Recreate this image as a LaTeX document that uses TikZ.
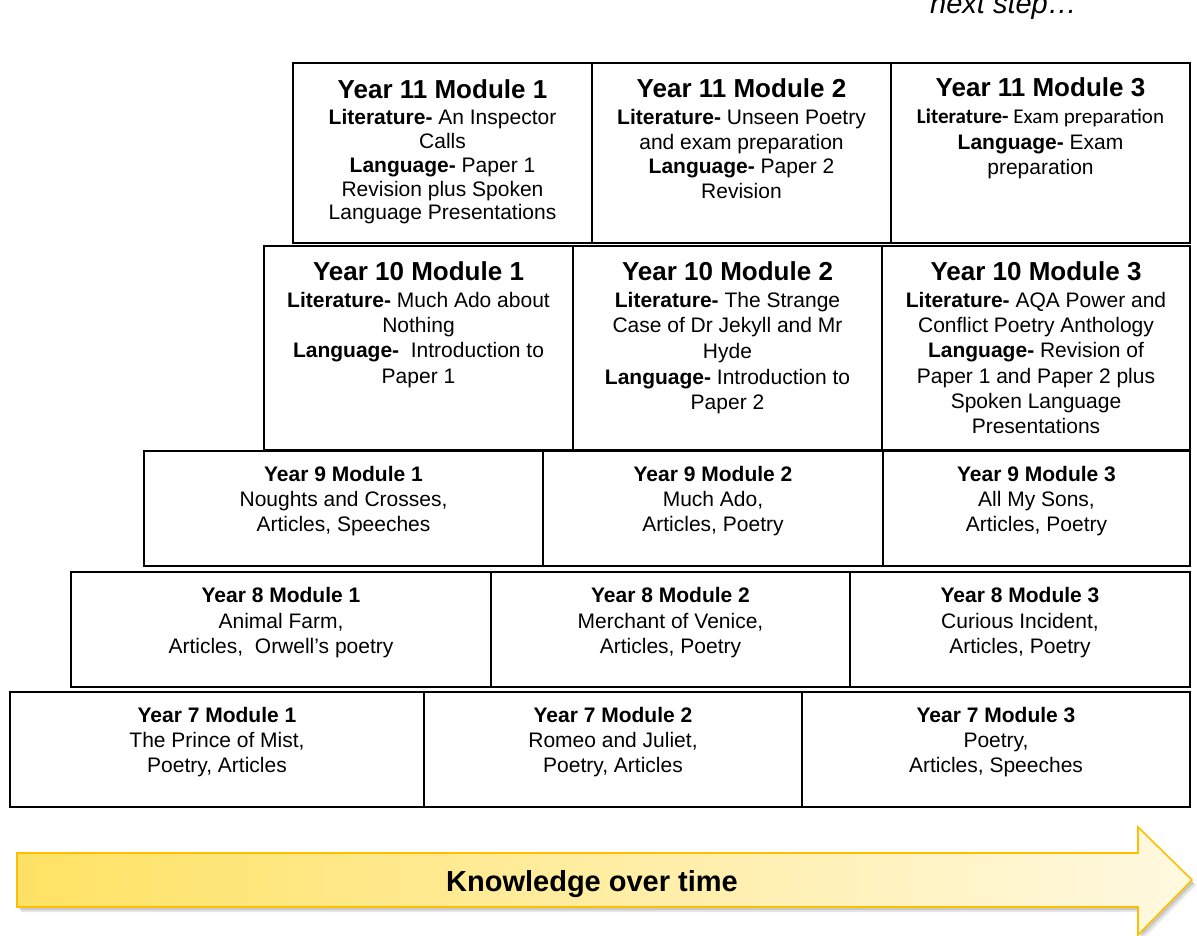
\documentclass[tikz,border=0pt]{standalone}
\usepackage{fontspec}
\setmainfont{Liberation Sans}
\newfontfamily\carlito{Carlito}
\definecolor{arrowedge}{RGB}{255,190,0}
\definecolor{arrowleft}{RGB}{255,226,100}
\definecolor{arrowright}{RGB}{255,249,225}
\tikzset{
  modbox/.style={draw=black, line width=2.4pt, anchor=north west, inner sep=0pt, outer sep=0pt},
  ttl/.style={anchor=base, inner sep=0pt, font=\bfseries\fontsize{26}{30}\selectfont},
  stl/.style={anchor=base, inner sep=0pt, font=\bfseries\fontsize{21}{25}\selectfont},
  bdy/.style={anchor=base, inner sep=0pt, font=\fontsize{21}{#1}\selectfont},
  bdy/.default=25,
  arrowshape/.style={line width=1.6pt, draw=arrowedge, left color=arrowleft, right color=arrowright},
}
\newcommand{\cellt}[1]{\begin{tabular}[t]{@{}c@{}}#1\end{tabular}}
\begin{document}
\begin{tikzpicture}[x=1pt,y=-1pt]
\useasboundingbox (0,0) rectangle (1197,936);
\clip (0,0) rectangle (1197,936);
\fill[white] (0,0) rectangle (1197,936);

% ---- Year 11 row
\node[modbox, minimum width=299pt, minimum height=180pt] (y11m1) at (293,63) {};
\node[modbox, minimum width=299pt, minimum height=180pt] (y11m2) at (592,63) {};
\node[modbox, minimum width=299pt, minimum height=180pt] (y11m3) at (891,63) {};
% ---- Year 10 row
\node[modbox, minimum width=309pt, minimum height=204pt] (y10m1) at (264,246) {};
\node[modbox, minimum width=309pt, minimum height=204pt] (y10m2) at (573,246) {};
\node[modbox, minimum width=308pt, minimum height=204pt] (y10m3) at (882,246) {};
% ---- Year 9 row
\node[modbox, minimum width=399pt, minimum height=115pt] (y9m1) at (144,451) {};
\node[modbox, minimum width=340pt, minimum height=115pt] (y9m2) at (543,451) {};
\node[modbox, minimum width=307pt, minimum height=115pt] (y9m3) at (883,451) {};
% ---- Year 8 row
\node[modbox, minimum width=420pt, minimum height=115pt] (y8m1) at (71,572) {};
\node[modbox, minimum width=359pt, minimum height=115pt] (y8m2) at (491,572) {};
\node[modbox, minimum width=340pt, minimum height=115pt] (y8m3) at (850,572) {};
% ---- Year 7 row
\node[modbox, minimum width=414pt, minimum height=115pt] (y7m1) at (10,692) {};
\node[modbox, minimum width=378pt, minimum height=115pt] (y7m2) at (424,692) {};
\node[modbox, minimum width=388pt, minimum height=115pt] (y7m3) at (802,692) {};

% ---- Year 11 texts
\node[ttl] (y11m1t) at (442.5,99) {Year 11 Module 1};
\node[bdy=23.7] (y11m1b) at (442.5,125) {\cellt{\textbf{Literature-} An Inspector\\Calls\\\textbf{Language-} Paper 1\\Revision plus Spoken\\Language Presentations}};
\node[ttl] (y11m2t) at (741.5,98) {Year 11 Module 2};
\node[bdy=24.5] (y11m2b) at (741.5,125) {\cellt{\textbf{Literature-} Unseen Poetry\\and exam preparation\\\textbf{Language-} Paper 2\\Revision}};
\node[ttl] (y11m3t) at (1040.5,97) {Year 11 Module 3};
\node[bdy=25.5] (y11m3b) at (1040.5,124) {\cellt{{\carlito\textbf{Literature-} Exam preparation}\\\textbf{Language-} Exam\\preparation}};

% ---- Year 10 texts
\node[ttl] (y10m1t) at (418.5,280) {Year 10 Module 1};
\node[bdy=25.5] (y10m1b) at (418.5,307) {\cellt{\textbf{Literature-} Much Ado about\\Nothing\\\textbf{Language-}\ \ Introduction to\\Paper 1}};
\node[ttl] (y10m2t) at (727.5,280) {Year 10 Module 2};
\node[bdy=25.7] (y10m2b) at (727.5,307) {\cellt{\textbf{Literature-} The Strange\\Case of Dr Jekyll and Mr\\Hyde\\\textbf{Language-} Introduction to\\Paper 2}};
\node[ttl] (y10m3t) at (1036,280) {Year 10 Module 3};
\node[bdy=25.4] (y10m3b) at (1036,307) {\cellt{\textbf{Literature-} AQA Power and\\Conflict Poetry Anthology\\\textbf{Language-} Revision of\\Paper 1 and Paper 2 plus\\Spoken Language\\Presentations}};

% ---- Year 9 texts
\node[stl] (y9m1t) at (343.5,481) {Year 9 Module 1};
\node[bdy] (y9m1b) at (343.5,506) {\cellt{Noughts and Crosses,\\Articles, Speeches}};
\node[stl] (y9m2t) at (713,481) {Year 9 Module 2};
\node[bdy] (y9m2b) at (713,506) {\cellt{Much Ado,\\Articles, Poetry}};
\node[stl] (y9m3t) at (1036.5,481) {Year 9 Module 3};
\node[bdy] (y9m3b) at (1036.5,506) {\cellt{All My Sons,\\Articles, Poetry}};

% ---- Year 8 texts
\node[stl] (y8m1t) at (281,602) {Year 8 Module 1};
\node[bdy] (y8m1b) at (281,628) {\cellt{Animal Farm,\\Articles,\ \ Orwell’s poetry}};
\node[stl] (y8m2t) at (670.5,602) {Year 8 Module 2};
\node[bdy] (y8m2b) at (670.5,628) {\cellt{Merchant of Venice,\\Articles, Poetry}};
\node[stl] (y8m3t) at (1020,602) {Year 8 Module 3};
\node[bdy] (y8m3b) at (1020,628) {\cellt{Curious Incident,\\Articles, Poetry}};

% ---- Year 7 texts
\node[stl] (y7m1t) at (217,722) {Year 7 Module 1};
\node[bdy] (y7m1b) at (217,747) {\cellt{The Prince of Mist,\\Poetry, Articles}};
\node[stl] (y7m2t) at (613,722) {Year 7 Module 2};
\node[bdy] (y7m2b) at (613,747) {\cellt{Romeo and Juliet,\\Poetry, Articles}};
\node[stl] (y7m3t) at (996,722) {Year 7 Module 3};
\node[bdy] (y7m3b) at (996,747) {\cellt{Poetry,\\Articles, Speeches}};

% ---- arrow
\fill[black, opacity=0.10] (21,858) -- (1142,858) -- (1142,832) -- (1196,885) -- (1142,940) -- (1142,912) -- (21,912) -- cycle;
\fill[black, opacity=0.12] (19,856) -- (1140,856) -- (1140,830) -- (1194,883) -- (1140,938) -- (1140,910) -- (19,910) -- cycle;
\path[arrowshape] (17,853) -- (1138,853) -- (1138,827) -- (1192,880) -- (1138,935) -- (1138,907) -- (17,907) -- cycle;
\node[font=\bfseries\fontsize{29}{33}\selectfont, inner sep=0pt, anchor=base] (know) at (592,891) {Knowledge over time};

% ---- next step
\node[font=\itshape\fontsize{29}{34}\selectfont, anchor=base west, inner sep=0pt] (next) at (930,14) {next step…};
\end{tikzpicture}
\end{document}
